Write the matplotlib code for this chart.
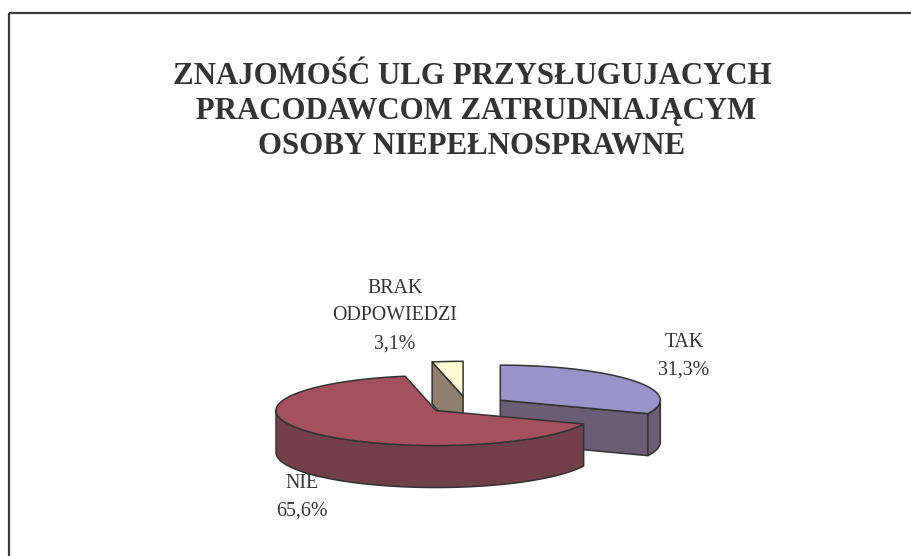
import numpy as np
import matplotlib
matplotlib.use("Agg")
import matplotlib.pyplot as plt
from matplotlib.patches import Polygon, Rectangle

# ---------------- data ----------------
title_lines = ["ZNAJOMOŚĆ ULG PRZYSŁUGUJACYCH",
               " PRACODAWCOM ZATRUDNIAJĄCYM",
               "OSOBY NIEPEŁNOSPRAWNE"]
categories = ["TAK", "NIE", "BRAK ODPOWIEDZI"]
values = [31.3, 65.6, 3.1]
top_colors = ["#9A93C9", "#A5505F", "#FFFAD3"]
side_colors = ["#6B5D74", "#713F48", "#8E7F6E"]

# ---------------- layout ----------------
W, H = 911, 556
fig = plt.figure(figsize=(W / 100, H / 100), dpi=100)
ax = fig.add_axes([0, 0, 1, 1])
ax.set_xlim(0, W)
ax.set_ylim(H, 0)
ax.axis("off")

SERIF = ["Liberation Serif", "DejaVu Serif"]
TXT = "#333333"
EDGE = "#333333"

# chart frame (only left and top borders visible)
ax.add_patch(Rectangle((9, 13), 1200, 1200, fill=False, ec="#3c3c3c", lw=1.6))

# title
for i, line in enumerate(title_lines):
    ax.text(472, 76 + 35 * i, line, ha="center", va="center", fontsize=22.2,
            fontweight="bold", family=SERIF, color=TXT)

# ---------------- 3D pie geometry ----------------
cx, cy = 467, 405      # pie centre (top face), pixels
rx, ry = 160, 35       # ellipse radii
depth = 42             # thickness
explode = 0.25

fr = np.array(values) / np.sum(values)
spans = []
start = 90.0
for f in fr:
    end = start - 360.0 * f
    spans.append((end, start))   # counter-clockwise from end to start
    start = end


def pts(c, th_deg, z):
    th = np.radians(th_deg)
    return np.column_stack([c[0] + rx * np.cos(th), c[1] - ry * np.sin(th) + z])


def visible_front(a1, a2):
    out = []
    for k in range(-3, 3):
        lo, hi = 180 + 360 * k, 360 + 360 * k
        s, e = max(a1, lo), min(a2, hi)
        if e > s:
            out.append((s, e))
    return out


slices = []
for i, (a1, a2) in enumerate(spans):
    mid = np.radians((a1 + a2) / 2)
    c = (cx + explode * rx * np.cos(mid), cy - explode * ry * np.sin(mid))
    slices.append((c, a1, a2, i))

# back-to-front order
slices.sort(key=lambda s: s[0][1])

lw = 1.1
for c, a1, a2, i in slices:
    # radial faces
    for th, vis in ((a1, np.cos(np.radians(a1)) > 1e-6),
                    (a2, np.cos(np.radians(a2)) < -1e-6)):
        if vis:
            rim_t = pts(c, np.array([th]), 0)[0]
            rim_b = pts(c, np.array([th]), depth)[0]
            poly = [c, rim_t, rim_b, (c[0], c[1] + depth)]
            ax.add_patch(Polygon(poly, closed=True, fc=side_colors[i], ec=EDGE,
                                 lw=lw, joinstyle="round"))
    # outer wall
    for s, e in visible_front(a1, a2):
        t = np.linspace(s, e, 120)
        poly = np.vstack([pts(c, t, 0), pts(c, t[::-1], depth)])
        ax.add_patch(Polygon(poly, closed=True, fc=side_colors[i], ec=EDGE,
                             lw=lw, joinstyle="round"))
    # top face
    t = np.linspace(a1, a2, 240)
    poly = np.vstack([[c], pts(c, t, 0)])
    ax.add_patch(Polygon(poly, closed=True, fc=top_colors[i], ec=EDGE,
                         lw=lw, joinstyle="round"))

# ---------------- labels ----------------
label_pos = {"TAK": (684, 356), "NIE": (302, 497), "BRAK ODPOWIEDZI": (395, 316)}
for cat, v in zip(categories, values):
    txt = cat.replace(" ", "\n") + "\n" + f"{v:.1f}%".replace(".", ",")
    x, y = label_pos[cat]
    ax.text(x, y, txt, ha="center", va="center", multialignment="center",
            fontsize=14.3, family=SERIF, color=TXT, linespacing=1.62)

fig.savefig("out.png", dpi=100)
